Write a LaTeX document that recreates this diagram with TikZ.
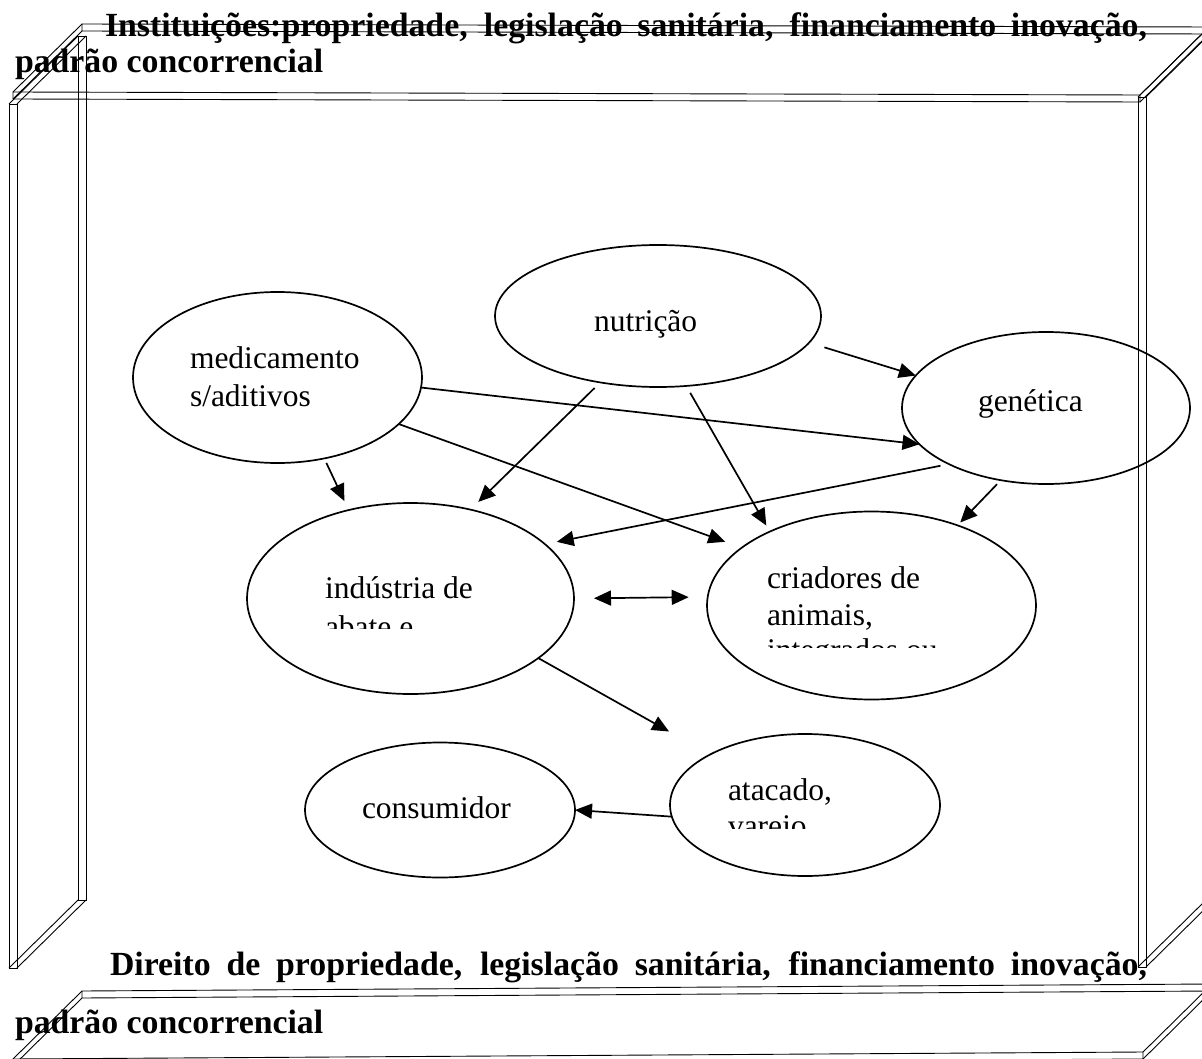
\documentclass[tikz,border=0pt]{standalone}
\usepackage{fontspec}
\setmainfont{Liberation Serif}
\usetikzlibrary{arrows.meta,shapes.geometric}

% thin wire-frame prism: front face given by four corners, depth goes up-right
\newcommand\wireprism[4]{%
  \draw[frame] #1 -- #2 -- #3 -- #4 -- cycle;
  \draw[frame, shift={(69,-68)}] #1 -- #2 -- #3 -- #4 -- cycle;
  \draw[frame] #1 -- ++(69,-68) #2 -- ++(69,-68) #3 -- ++(69,-68) #4 -- ++(69,-68);
}

\begin{document}
\begin{tikzpicture}[x=1pt,y=-1pt,
  frame/.style={line width=0.9pt, line join=miter},
  bubble/.style={draw, ellipse, line width=1.7pt, inner sep=0pt, outer sep=0pt},
  txt/.style={anchor=base west, inner sep=0pt, outer sep=0pt,
              font=\fontsize{31.5}{38}\selectfont},
  heading/.style={anchor=base west, inner sep=0pt, outer sep=0pt,
              font=\fontsize{33.8}{38}\selectfont\bfseries},
  tip/.tip={Triangle[length=17pt,width=15pt]},
  link/.style={line width=1.7pt, -tip},
  both/.style={line width=1.7pt, tip-tip}
]
\useasboundingbox (0,0) rectangle (1202,1059);
\clip (0,0) rectangle (1202,1059);

% the surrounding box: top slab, two side walls, bottom slab
\wireprism{(13,92)}{(1140,95)}{(1140,102)}{(13,99)}
\wireprism{(9,104)}{(17,104)}{(17,968)}{(9,968)}
\wireprism{(1138,97)}{(1146,97)}{(1146,967)}{(1138,967)}
\wireprism{(13,1059)}{(1143,1052)}{(1143,1059)}{(13,1066)}

% headings
\node[heading] (topA) at (105,37)
  {\makebox[1042pt][s]{Instituições:propriedade, legislação sanitária, financiamento inovação,}};
\node[heading] (topB) at (15,73) {padrão concorrencial};
\node[heading] (botA) at (110,975)
  {\makebox[1037pt][s]{Direito de propriedade, legislação sanitária, financiamento inovação,}};
\node[heading] (botB) at (15,1033) {padrão concorrencial};

% actors of the chain
\node[bubble, minimum width=289pt, minimum height=171pt] (med) at (277.5,377.5) {};
\node[bubble, minimum width=326pt, minimum height=142pt] (nut) at (658,316) {};
\node[bubble, minimum width=288pt, minimum height=152pt] (gen) at (1046,408) {};
\node[bubble, minimum width=327pt, minimum height=191pt] (ind) at (410.5,598.5) {};
\node[bubble, minimum width=329pt, minimum height=188pt] (cri) at (871.5,605.5) {};
\node[bubble, minimum width=270pt, minimum height=142pt] (ata) at (805,805) {};
\node[bubble, minimum width=270pt, minimum height=135pt] (con) at (440,810) {};

% texts inside the ellipses (overflowing lines are cut off)
\node[txt] (medA) at (190,368) {medicamento};
\node[txt] (medB) at (190,406) {s/aditivos};
\node[txt] (nutT) at (594,331) {nutrição};
\node[txt] (genT) at (978,411) {genética};
\node[txt] (indA) at (325,598) {indústria de};
\begin{scope}
  \clip (300,600) rectangle (600,628);
  \node[txt] (indB) at (325,637) {abate e};
\end{scope}
\node[txt] (criA) at (767,588) {criadores de};
\node[txt] (criB) at (767,625) {animais,};
\begin{scope}
  \clip (740,630) rectangle (1000,647);
  \node[txt] (criC) at (767,660) {integrados ou};
\end{scope}
\node[txt] (ataA) at (728,800) {atacado,};
\begin{scope}
  \clip (700,805) rectangle (900,828);
  \node[txt] (ataB) at (728,836) {varejo};
\end{scope}
\node[txt] (conT) at (362,818) {consumidor};

% flows
\draw[link, shorten <=16pt] (nut.-10.8) -- (gen.166.3);
\draw[link] (med.-4.2) -- (gen.196.2);
\draw[link, shorten >=17.5pt] (med.-21.4) -- (cri.156.1);
\draw[link, shorten <=5pt, shorten >=10pt] (med.-60.8) -- (ind.125);
\draw[link, shorten <=8pt, shorten >=11pt] (nut.-131.8) -- (ind.56.1);
\draw[link, shorten <=8pt, shorten >=7pt] (nut.-68.9) -- (cri.144.6);
\draw[link, shorten <=8.5pt, shorten >=12pt] (gen.-150.7) -- (ind.22.4);
\draw[link, shorten <=5.5pt, shorten >=4pt] (gen.-122) -- (cri.43.6);
\draw[both, shorten <=20pt, shorten >=19pt] (ind.0) -- (cri.177.7);
\draw[link, shorten >=47pt] (ind.-25.2) -- (ata.152.85);
\draw[link] (ata.185.54) -- (con.0.4);
\end{tikzpicture}
\end{document}
